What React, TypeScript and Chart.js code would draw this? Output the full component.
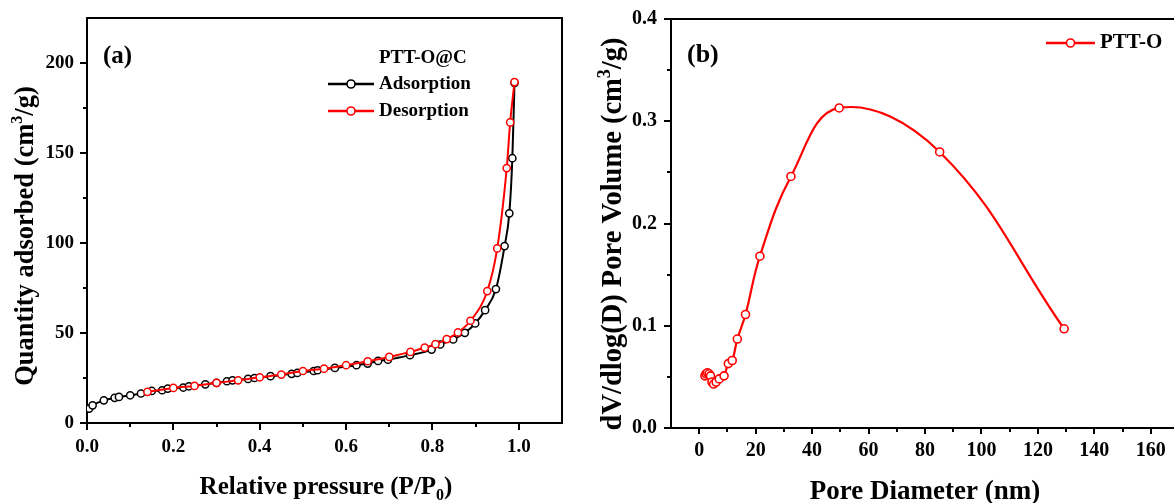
import React, { useEffect, useRef } from "react";
import { Chart, registerables } from "chart.js";

Chart.register(...registerables);

// ---------- Panel (a): N2 isotherm ----------
const ADS_P = [0.005, 0.013, 0.039, 0.064, 0.074, 0.1, 0.125, 0.15, 0.174, 0.187, 0.223, 0.236, 0.274, 0.3, 0.324, 0.337, 0.373, 0.388, 0.425, 0.474, 0.487, 0.525, 0.534, 0.574, 0.624, 0.65, 0.674, 0.697, 0.748, 0.798, 0.818, 0.848, 0.875, 0.899, 0.922, 0.947, 0.967, 0.978, 0.985, 0.99];
const ADS_Q = [8.0, 9.8, 12.6, 14.0, 14.5, 15.4, 16.4, 17.8, 18.2, 19.1, 19.7, 20.4, 21.5, 22.3, 23.2, 23.7, 24.5, 25.0, 26.0, 27.3, 27.8, 28.9, 29.3, 30.6, 32.1, 33.0, 34.5, 35.2, 37.7, 40.8, 43.6, 46.4, 50.1, 55.3, 62.7, 74.4, 98.3, 116.5, 147.1, 189.0];
const DES_P = [0.14, 0.2, 0.249, 0.3, 0.35, 0.4, 0.45, 0.5, 0.549, 0.6, 0.65, 0.7, 0.749, 0.782, 0.807, 0.833, 0.859, 0.888, 0.927, 0.95, 0.972, 0.98, 0.99];
const DES_Q = [17.3, 19.5, 20.6, 22.3, 23.7, 25.4, 26.9, 28.9, 30.2, 32.1, 34.3, 36.7, 39.5, 41.9, 43.8, 46.6, 50.3, 56.8, 73.3, 97.0, 141.6, 167.0, 189.4];
const A_X_TICKS = [0, 0.2, 0.4, 0.6, 0.8, 1.0];
const A_X_MINOR = [0.1, 0.3, 0.5, 0.7, 0.9];
const A_Y_TICKS = [0, 50, 100, 150, 200];
const A_Y_MINOR = [25, 75, 125, 175];
const A_LEGEND_TITLE = "PTT-O@C";
const A_LABELS = ["Adsorption", "Desorption"];

// ---------- Panel (b): pore size distribution ----------
const PORE_D = [2.0, 2.4, 2.9, 3.5, 4.0, 4.5, 5.1, 6.0, 7.1, 8.8, 10.3, 11.7, 13.5, 16.4, 21.5, 32.5, 49.6, 85.2, 129.3];
const PORE_V = [0.051, 0.053, 0.054, 0.053, 0.051, 0.045, 0.043, 0.045, 0.048, 0.051, 0.063, 0.066, 0.087, 0.111, 0.168, 0.246, 0.313, 0.27, 0.097];
const B_X_TICKS = [0, 20, 40, 60, 80, 100, 120, 140, 160];
const B_X_MINOR = [10, 30, 50, 70, 90, 110, 130, 150];
const B_Y_TICKS = [0, 0.1, 0.2, 0.3, 0.4];
const B_Y_MINOR = [0.05, 0.15, 0.25, 0.35];
const B_LABEL = "PTT-O";

const FONT = '"Liberation Serif", "Times New Roman", serif';

type Part = { t: string; s?: "sup" | "sub" };

function drawRich(ctx: CanvasRenderingContext2D, parts: Part[], size: number, cx: number, cy: number, rot: number) {
  ctx.save();
  ctx.translate(cx, cy);
  ctx.rotate(rot);
  const small = Math.round(size * 0.62);
  const widths = parts.map((p) => {
    ctx.font = `bold ${p.s ? small : size}px ${FONT}`;
    return ctx.measureText(p.t).width;
  });
  const total = widths.reduce((a, b) => a + b, 0);
  let x = -total / 2;
  ctx.textBaseline = "alphabetic";
  ctx.textAlign = "left";
  ctx.fillStyle = "#000";
  parts.forEach((p, i) => {
    ctx.font = `bold ${p.s ? small : size}px ${FONT}`;
    const dy = p.s === "sup" ? -size * 0.4 : p.s === "sub" ? size * 0.25 : 0;
    ctx.fillText(p.t, x, dy);
    x += widths[i];
  });
  ctx.restore();
}

type Deco = {
  minorX: number[];
  minorY: number[];
  xTitle: { parts: Part[]; size: number; x: number; y: number };
  yTitle: { parts: Part[]; size: number; x: number; y: number };
  panel: { text: string; x: number; y: number; size: number };
  legend: { title?: string; x0: number; x1: number; textX: number; titleY?: number; rows: number[]; size: number };
};

function decoPlugin(d: Deco) {
  return {
    id: "deco",
    afterDraw(chart: any) {
      const { ctx, chartArea: ca, scales } = chart;
      ctx.save();
      ctx.strokeStyle = "#000";
      ctx.lineWidth = 2;
      ctx.beginPath();
      ctx.moveTo(ca.left - 1, ca.top);
      ctx.lineTo(ca.right, ca.top);
      ctx.lineTo(ca.right, ca.bottom + 1);
      ctx.stroke();
      ctx.beginPath();
      d.minorX.forEach((v) => {
        const px = Math.round(scales.x.getPixelForValue(v));
        ctx.moveTo(px, ca.bottom);
        ctx.lineTo(px, ca.bottom + 4);
      });
      d.minorY.forEach((v) => {
        const py = Math.round(scales.y.getPixelForValue(v));
        ctx.moveTo(ca.left, py);
        ctx.lineTo(ca.left - 4, py);
      });
      ctx.stroke();

      // panel label
      ctx.fillStyle = "#000";
      ctx.font = `bold ${d.panel.size}px ${FONT}`;
      ctx.textAlign = "left";
      ctx.textBaseline = "middle";
      ctx.fillText(d.panel.text, d.panel.x, d.panel.y);

      // legend
      const lg = d.legend;
      ctx.font = `bold ${lg.size}px ${FONT}`;
      if (lg.title && lg.titleY !== undefined) ctx.fillText(lg.title, lg.textX, lg.titleY);
      chart.data.datasets.forEach((ds: any, i: number) => {
        const y = lg.rows[i];
        if (y === undefined) return;
        ctx.strokeStyle = ds.borderColor;
        ctx.lineWidth = 2.5;
        ctx.beginPath();
        ctx.moveTo(lg.x0, y);
        ctx.lineTo(lg.x1, y);
        ctx.stroke();
        ctx.beginPath();
        ctx.arc((lg.x0 + lg.x1) / 2, y, 4, 0, Math.PI * 2);
        ctx.fillStyle = "#fff";
        ctx.fill();
        ctx.lineWidth = 1.6;
        ctx.stroke();
        ctx.fillStyle = "#000";
        ctx.fillText(ds.label, lg.textX, y);
      });

      drawRich(ctx, d.xTitle.parts, d.xTitle.size, d.xTitle.x, d.xTitle.y, 0);
      drawRich(ctx, d.yTitle.parts, d.yTitle.size, d.yTitle.x, d.yTitle.y, -Math.PI / 2);
      ctx.restore();
    },
  };
}

function axis(opts: {
  min: number; max: number; ticks: number[]; fmt: (v: number) => string; size: number;
  fixed: number; horizontal: boolean; tickLen: number; pad: number;
}) {
  return {
    type: "linear",
    min: opts.min,
    max: opts.max,
    afterBuildTicks: (scale: any) => {
      scale.ticks = opts.ticks.map((v) => ({ value: v }));
    },
    afterFit: (scale: any) => {
      if (opts.horizontal) scale.height = opts.fixed;
      else scale.width = opts.fixed;
    },
    grid: {
      display: true,
      drawOnChartArea: false,
      drawTicks: true,
      tickLength: opts.tickLen,
      tickWidth: 2,
      tickColor: "#000",
      color: "#000",
      lineWidth: 2,
    },
    border: { display: true, color: "#000", width: 2 },
    ticks: {
      padding: opts.pad,
      color: "#000",
      font: { family: FONT, size: opts.size, weight: "bold" },
      maxRotation: 0,
      autoSkip: false,
      callback: (v: any) => opts.fmt(Number(v)),
    },
    title: { display: false },
  };
}

function makeLeft(canvas: HTMLCanvasElement) {
  return new Chart(canvas, {
    type: "line",
    data: {
      datasets: [
        {
          label: A_LABELS[0],
          data: ADS_P.map((p, i) => ({ x: p, y: ADS_Q[i] })),
          borderColor: "#000000",
          backgroundColor: "#ffffff",
          pointBackgroundColor: "#ffffff",
          pointBorderColor: "#000000",
          borderWidth: 2,
          pointRadius: 3.6,
          pointBorderWidth: 1.5,
          cubicInterpolationMode: "monotone",
          order: 1,
        },
        {
          label: A_LABELS[1],
          data: DES_P.map((p, i) => ({ x: p, y: DES_Q[i] })),
          borderColor: "#ff0000",
          backgroundColor: "#ffffff",
          pointBackgroundColor: "#ffffff",
          pointBorderColor: "#ff0000",
          borderWidth: 2,
          pointRadius: 3.6,
          pointBorderWidth: 1.5,
          cubicInterpolationMode: "monotone",
          order: 0,
        },
      ],
    } as any,
    options: {
      responsive: false,
      animation: false,
      devicePixelRatio: 1,
      layout: { padding: { left: 0, right: 28, top: 18, bottom: 0 } },
      plugins: { legend: { display: false }, tooltip: { enabled: false }, title: { display: false } },
      scales: {
        x: axis({ min: 0, max: 1.1, ticks: A_X_TICKS, fmt: (v) => v.toFixed(1), size: 19, fixed: 80, horizontal: true, tickLen: 7, pad: 6 }),
        y: axis({ min: 0, max: 225, ticks: A_Y_TICKS, fmt: (v) => String(v), size: 19, fixed: 87, horizontal: false, tickLen: 7, pad: 6 }),
      } as any,
    },
    plugins: [
      decoPlugin({
        minorX: A_X_MINOR,
        minorY: A_Y_MINOR,
        xTitle: { parts: [{ t: "Relative pressure (P/P" }, { t: "0", s: "sub" }, { t: ")" }], size: 25, x: 326, y: 494 },
        yTitle: { parts: [{ t: "Quantity adsorbed (cm" }, { t: "3", s: "sup" }, { t: "/g)" }], size: 26.5, x: 33, y: 236 },
        panel: { text: "(a)", x: 103, y: 57, size: 25 },
        legend: { title: A_LEGEND_TITLE, titleY: 58, x0: 328, x1: 374, textX: 379, rows: [84, 111], size: 19 },
      }),
    ],
  } as any);
}

function makeRight(canvas: HTMLCanvasElement) {
  return new Chart(canvas, {
    type: "line",
    data: {
      datasets: [
        {
          label: B_LABEL,
          data: PORE_D.map((d, i) => ({ x: d, y: PORE_V[i] })),
          borderColor: "#ff0000",
          backgroundColor: "#ffffff",
          pointBackgroundColor: "#ffffff",
          pointBorderColor: "#ff0000",
          borderWidth: 2.2,
          pointRadius: 4,
          pointBorderWidth: 1.6,
          tension: 0.4,
        },
      ],
    } as any,
    options: {
      responsive: false,
      animation: false,
      devicePixelRatio: 1,
      layout: { padding: { left: 0, right: 11, top: 17, bottom: 0 } },
      plugins: { legend: { display: false }, tooltip: { enabled: false }, title: { display: false } },
      scales: {
        x: axis({ min: -10, max: 170, ticks: B_X_TICKS, fmt: (v) => String(v), size: 20, fixed: 75, horizontal: true, tickLen: 6, pad: 5 }),
        y: axis({ min: 0, max: 0.4, ticks: B_Y_TICKS, fmt: (v) => v.toFixed(1), size: 20, fixed: 81, horizontal: false, tickLen: 7, pad: 7 }),
      } as any,
    },
    plugins: [
      decoPlugin({
        minorX: B_X_MINOR,
        minorY: B_Y_MINOR,
        xTitle: { parts: [{ t: "Pore Diameter (nm)" }], size: 27, x: 335, y: 499 },
        yTitle: { parts: [{ t: "dV/dlog(D) Pore Volume (cm" }, { t: "3", s: "sup" }, { t: "/g)" }], size: 28.5, x: 31, y: 234 },
        panel: { text: "(b)", x: 97, y: 55, size: 26 },
        legend: { x0: 456, x1: 505, textX: 510, rows: [43], size: 21 },
      }),
    ],
  } as any);
}

function ChartCanvas({ left, width, make }: { left: number; width: number; make: (c: HTMLCanvasElement) => Chart }) {
  const ref = useRef<HTMLCanvasElement | null>(null);
  useEffect(() => {
    if (!ref.current) return;
    const chart = make(ref.current);
    return () => chart.destroy();
  }, [make]);
  return (
    <canvas
      ref={ref}
      width={width}
      height={503}
      style={{ position: "absolute", left, top: 0, width, height: 503, display: "block" }}
    />
  );
}

export default function App() {
  return (
    <div
      style={{
        position: "absolute",
        left: 0,
        top: 0,
        width: 1174,
        height: 503,
        overflow: "hidden",
        background: "#ffffff",
      }}
    >
      <ChartCanvas left={0} width={590} make={makeLeft} />
      <ChartCanvas left={590} width={600} make={makeRight} />
    </div>
  );
}
